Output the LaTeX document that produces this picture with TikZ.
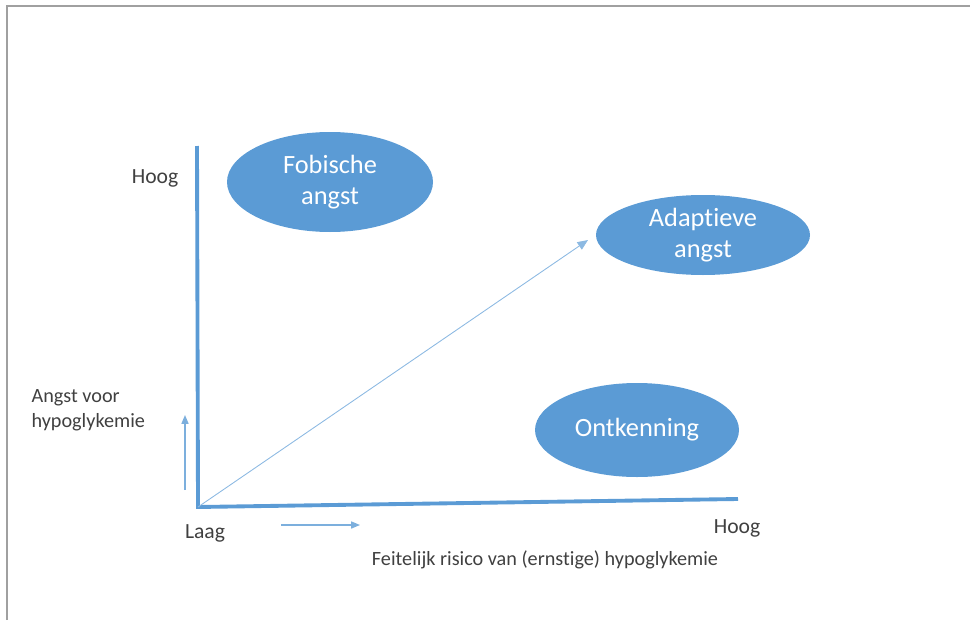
\documentclass[tikz,border=0pt]{standalone}
\usepackage{fontspec}
\setmainfont[Ligatures={NoCommon}]{Carlito}
\usetikzlibrary{shapes,positioning,arrows.meta}
\usetikzlibrary{calc}

\definecolor{officeblue}{HTML}{5B9BD5}
\definecolor{textgrey}{HTML}{404040}
\definecolor{framegrey}{HTML}{A0A0A0}

\tikzset{
    zone/.style={ellipse, fill=officeblue, text=white, align=center,
        inner sep=0pt, font=\fontsize{15}{17.5}\selectfont},
    axis/.style={officeblue, line width=2.2pt},
    hint/.style={officeblue!80, line width=0.7pt, -{Triangle[length=5pt,width=4pt]}},
    label/.style={text=textgrey, font=\fontsize{12.3}{14}\selectfont},
    small/.style={text=textgrey, font=\fontsize{11.5}{14}\selectfont}
}

\begin{document}
\begin{tikzpicture}[thick]

    \useasboundingbox (0,0) rectangle (19.4,12.4);

    % frame
    \draw[framegrey, line width=1.2pt] (0.14,0) -- (0.14,12.28) -- (19.4,12.28);

    % axes
    \coordinate (origin) at (3.96,2.26);
    \coordinate (ytop) at (3.94,9.48);
    \coordinate (xend) at (14.76,2.42);
    \draw[axis] (ytop) -- (origin) -- (xend);

    % zones
    \node[zone, minimum width=4.12cm, minimum height=2cm] (fobisch) at (6.6,8.76) {Fobische\\angst};
    \node[zone, minimum width=4.28cm, minimum height=1.6cm] (adaptief) at (14.06,7.7) {Adaptieve\\angst};
    \node[zone, minimum width=4.08cm, minimum height=1.88cm] (ontkenning) at (12.74,3.8) {Ontkenning};

    % diagonal
    \coordinate (diagend) at (11.76,7.6);
    \draw[officeblue!70, line width=0.5pt, -{Triangle[length=6pt,width=5pt]}] (origin) -- (diagend);

    % direction hints
    \coordinate (upfrom) at (3.7,2.6);
    \coordinate (upto) at (3.7,4.1);
    \draw[hint] (upfrom) -- (upto);
    \coordinate (rightfrom) at (5.62,1.9);
    \coordinate (rightto) at (7.2,1.9);
    \draw[hint] (rightfrom) -- (rightto);

    % labels
    \node[label] (yhoog) at (3.1,8.84) {Hoog};
    \node[label] (laag) at (4.1,1.74) {Laag};
    \node[label] (xhoog) at (14.74,1.84) {Hoog};
    \node[small, align=left, anchor=west] (ylabel) at (0.5,4.2) {Angst voor\\hypoglykemie};
    \node[small] (xlabel) at (10.9,1.2) {Feitelijk risico van (ernstige) hypoglykemie};

\end{tikzpicture}
\end{document}
